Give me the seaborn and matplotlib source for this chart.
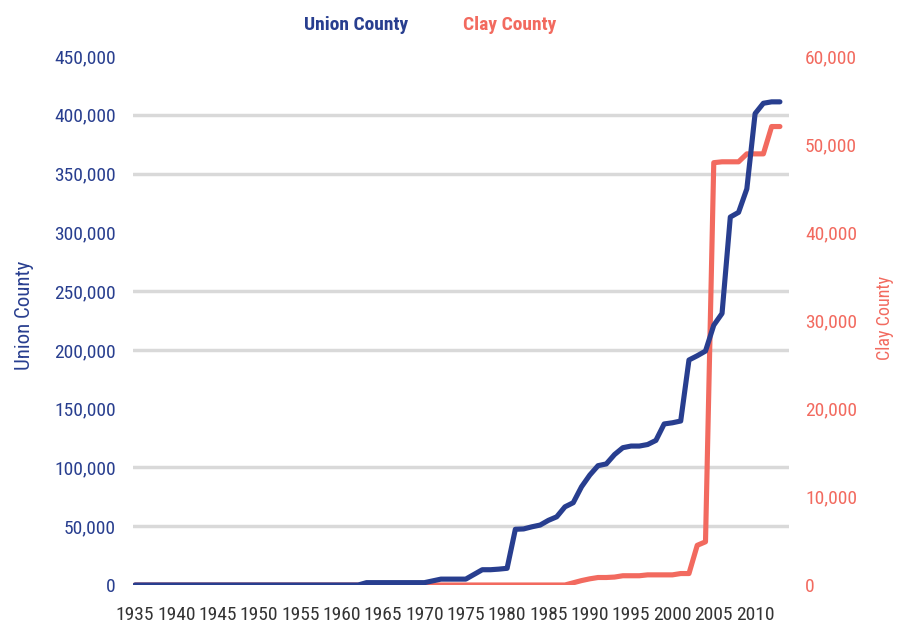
import matplotlib
matplotlib.use("Agg")
import matplotlib.pyplot as plt
import seaborn as sns
import pandas as pd
from matplotlib import font_manager as fm
from matplotlib.ticker import FuncFormatter, FixedLocator

# ---------------- data ----------------
years = list(range(1935, 2014))

union_county = [
    0, 0, 0, 0, 0, 0, 0, 0, 0, 0,            # 1935-1944
    0, 0, 0, 0, 0, 0, 0, 0, 0, 0,            # 1945-1954
    0, 0, 0, 0, 0, 0, 0, 0,                  # 1955-1962
    2000, 2000, 2000, 2000, 2000, 2000, 2000, 2000,  # 1963-1970
    3500,                                     # 1971
    5000, 5000, 5000, 5000,                   # 1972-1975
    9000,                                     # 1976
    13000, 13000, 13500,                      # 1977-1979
    14200, 47400, 47700, 49500, 51000,        # 1980-1984
    55000, 58000, 66500, 70000, 83500,        # 1985-1989
    93500, 101500, 103000, 111000, 116800,    # 1990-1994
    118200, 118200, 119500, 123000, 137000,   # 1995-1999
    138000, 139500, 191400, 195000, 199000,   # 2000-2004
    221000, 231000, 313000, 317000, 337000,   # 2005-2009
    401000, 409800, 411000, 411000,           # 2010-2013
]

clay_county = [
    0, 0, 0, 0, 0, 0, 0, 0, 0, 0,            # 1935-1944
    0, 0, 0, 0, 0, 0, 0, 0, 0, 0,            # 1945-1954
    0, 0, 0, 0, 0, 0, 0, 0, 0, 0,            # 1955-1964
    0, 0, 0, 0, 0, 0, 0, 0, 0, 0,            # 1965-1974
    0, 0, 0, 0, 0, 0, 0, 0, 0, 0,            # 1975-1984
    0, 0, 0,                                  # 1985-1987
    250, 500,                                 # 1988-1989
    700, 850, 850, 900, 1050,                 # 1990-1994
    1050, 1050, 1150, 1150, 1150,             # 1995-1999
    1150, 1300, 1300, 4500, 4900,             # 2000-2004
    47900, 48000, 48000, 48000, 48900,        # 2005-2009
    48900, 48900, 52000, 52000,               # 2010-2013
]

x_ticks = [1935, 1940, 1945, 1950, 1955, 1960, 1965, 1970, 1975,
           1980, 1985, 1990, 1995, 2000, 2005, 2010]
union_ticks = [0, 50000, 100000, 150000, 200000, 250000,
               300000, 350000, 400000, 450000]
clay_ticks = [0, 10000, 20000, 30000, 40000, 50000, 60000]

# ---------------- style ----------------
NAVY = "#283E8F"
SALMON = "#F26A5F"
GRID = "#D9D9D9"
XTEXT = "#333333"

sns.set_theme(style="white")

# pick a narrow font if one is installed, otherwise Roboto at a smaller size
names = {f.name for f in fm.fontManager.ttflist}
narrow = None
for cand in ["Liberation Sans Narrow", "Roboto Condensed", "Arial Narrow",
             "Open Sans Condensed", "Noto Sans Condensed"]:
    if cand in names:
        narrow = cand
        break
if narrow:
    plt.rcParams['font.family'] = [narrow, 'DejaVu Sans']
    TICK, LEG, YL, YR = 14, 14, 15, 13
else:
    plt.rcParams['font.family'] = ['Roboto', 'DejaVu Sans']
    TICK, LEG, YL, YR = 12, 11.5, 12, 11

W, H = 903, 626
fig = plt.figure(figsize=(W / 100, H / 100), dpi=100)
fig.patch.set_facecolor("white")
ax = fig.add_axes([133 / W, 1 - 585 / H, (789 - 133) / W, (585 - 56) / H])
ax2 = ax.twinx()

df = pd.DataFrame({"Year": years,
                   "Union County": union_county,
                   "Clay County": clay_county})

sns.lineplot(data=df, x="Year", y="Clay County", ax=ax2, color=SALMON,
             linewidth=3.7, label="Clay County", legend=False)
sns.lineplot(data=df, x="Year", y="Union County", ax=ax, color=NAVY,
             linewidth=3.7, label="Union County", legend=False)

# layering: blue above red
ax.set_zorder(ax2.get_zorder() + 1)
ax.patch.set_visible(False)

# limits / ticks
ax.set_xlim(1934.75, 2014.1)
ax.set_ylim(0, 450000)
ax2.set_ylim(0, 60000)
ax.set_xticks(x_ticks)
ax.set_yticks(union_ticks)
ax2.set_yticks(clay_ticks)

fmt = FuncFormatter(lambda v, p: f"{v:,.0f}")
ax.yaxis.set_major_formatter(fmt)
ax2.yaxis.set_major_formatter(fmt)

ax.tick_params(axis='y', colors=NAVY, length=0, pad=12.5, labelsize=TICK)
ax.tick_params(axis='x', colors=XTEXT, length=0, pad=15, labelsize=TICK)
ax2.tick_params(axis='y', which='both', colors=SALMON, length=0, pad=11.5, labelsize=TICK)

# gridlines (at the left-axis ticks) drawn on the lower layer
ax.grid(False)
ax2.grid(False)
ax2.yaxis.set_minor_locator(FixedLocator([v * 60000 / 450000 for v in union_ticks]))
ax2.grid(which='minor', axis='y', color=GRID, linewidth=2.5)
ax2.set_axisbelow(True)

for a in (ax, ax2):
    for s in a.spines.values():
        s.set_visible(False)

ax.set_xlabel("")
ax.set_ylabel("Union County", color=NAVY, fontsize=YL)
ax.yaxis.set_label_coords(-0.151, 0.51)
ax2.set_ylabel("Clay County", color=SALMON, fontsize=YR, rotation=90)
ax2.yaxis.set_label_coords(1.1326, 0.505)

# legend (text only)
handles = ax.get_lines()[:1] + ax2.get_lines()[:1]
labels = ["Union County", "Clay County"]
leg = fig.legend(handles, labels, loc='center', bbox_to_anchor=(430 / W, 1 - 25 / H),
                 ncol=2, frameon=False, handlelength=0, handletextpad=0,
                 columnspacing=2.8, prop={'weight': 'bold', 'size': LEG})
for h in leg.legend_handles:
    h.set_visible(False)
for t, c in zip(leg.get_texts(), [NAVY, SALMON]):
    t.set_color(c)

fig.savefig("out.png", dpi=100)
